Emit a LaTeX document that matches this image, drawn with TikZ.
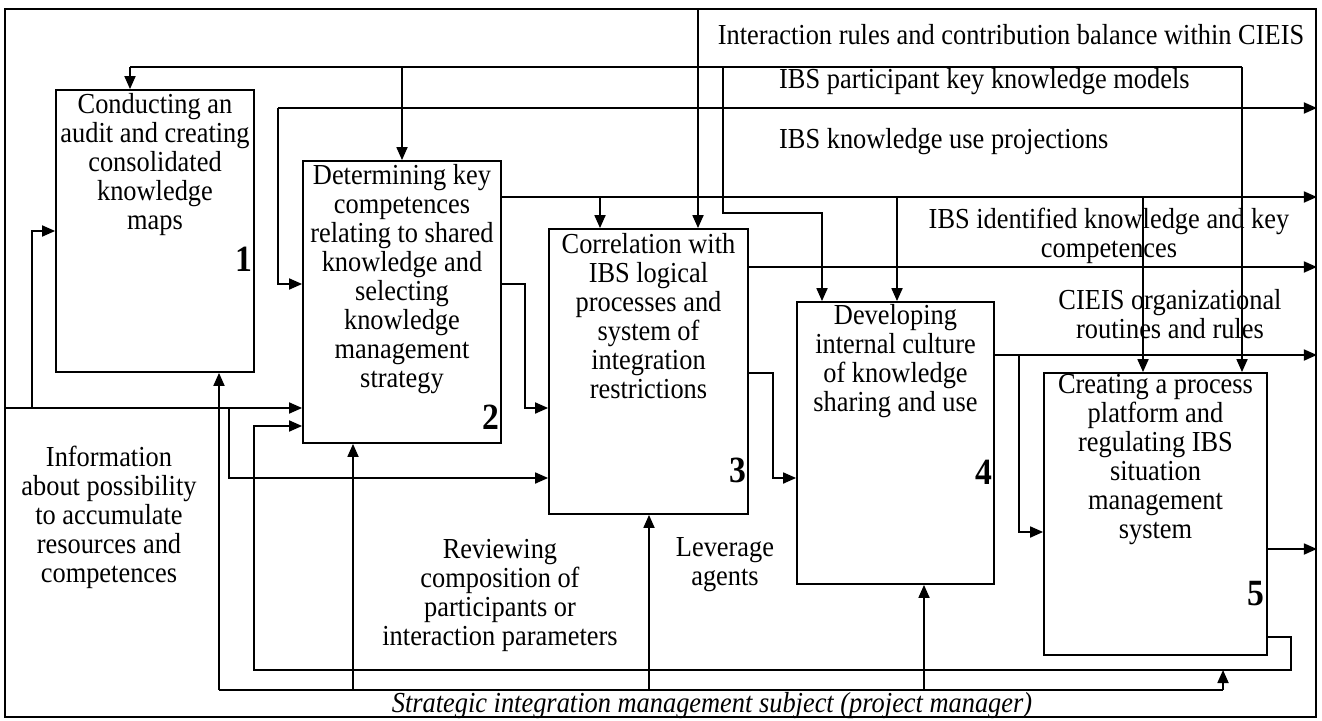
\documentclass[tikz,border=0pt]{standalone}
\usepackage{fontspec}
\setmainfont[FakeStretch=0.91]{Liberation Serif}
\usetikzlibrary{arrows.meta,positioning}

\tikzset{
  proc/.style={draw,line width=1.8bp,inner sep=0pt},
  boxtext/.style={align=center,inner sep=0pt,font=\fontsize{29bp}{29bp}\selectfont},
  lab/.style={align=center,inner sep=0pt,font=\fontsize{29bp}{29bp}\selectfont},
  num/.style={inner sep=0pt,anchor=east,font=\fontsize{37bp}{37bp}\selectfont\bfseries},
  arr/.style={line width=1.8bp,-{Triangle[length=13bp,width=11bp]}},
  rail/.style={line width=1.8bp}
}

\begin{document}
\begin{tikzpicture}[x=1bp,y=-1bp]
\useasboundingbox (0,0) rectangle (1322,720);

% frame
\node[proc,minimum width=1311bp,minimum height=708bp] (frame) at (660.5,363) {};

% activity boxes
\node[proc,minimum width=198bp,minimum height=282bp] (b1) at (155,231) {};
\node[proc,minimum width=198bp,minimum height=282bp] (b2) at (402,302) {};
\node[proc,minimum width=199bp,minimum height=285bp] (b3) at (648.5,371.5) {};
\node[proc,minimum width=197bp,minimum height=282bp] (b4) at (895.5,443) {};
\node[proc,minimum width=223bp,minimum height=282bp] (b5) at (1155.5,514) {};

\node[boxtext,below=4bp of b1.north] (t1) {Conducting an\\audit and creating\\consolidated\\knowledge\\maps};
\node[boxtext,below=4bp of b2.north] (t2) {Determining key\\competences\\relating to shared\\knowledge and\\selecting\\knowledge\\management\\strategy};
\node[boxtext,below=5bp of b3.north] (t3) {Correlation with\\IBS logical\\processes and\\system of\\integration\\restrictions};
\node[boxtext,below=3bp of b4.north] (t4) {Developing\\internal culture\\of knowledge\\sharing and use};
\node[boxtext,below=2bp of b5.north] (t5) {Creating a process\\platform and\\regulating IBS\\situation\\management\\system};

\node[num,xshift=-2bp] (n1) at (b1.east |- 0,259) {1};
\node[num,xshift=-2bp] (n2) at (b2.east |- 0,417) {2};
\node[num,xshift=-2bp] (n3) at (b3.east |- 0,470) {3};
\node[num,xshift=-2bp] (n4) at (b4.east |- 0,472) {4};
\node[num,xshift=-3bp] (n5) at (b5.east |- 0,594) {5};

% controls from the top
\draw[rail] (1242,67) -- (130,67);
\draw[arr] (130,67) -- (b1.north -| 130,0);
\draw[arr] (b2.north |- 0,67) -- (b2.north);
\draw[arr] (723,67) |- (822,213) -- (b4.north -| 822,0);
\draw[arr] (1242,67) -- (b5.north -| 1242,0);
\draw[arr] (frame.north -| 698,0) -- (b3.north -| 698,0);

% outputs to the right
\draw[arr] (278,108) -- (frame.east |- 0,108);
\draw[arr] (278,108) |- (b2.west |- 0,284);
\draw[arr] (b2.east |- 0,197) -- (frame.east |- 0,197);
\draw[arr] (600,197) -- (b3.north -| 600,0);
\draw[arr] (897,197) -- (b4.north -| 897,0);
\draw[arr] (1143,197) -- (b5.north -| 1143,0);
\draw[arr] (b3.east |- 0,267) -- (frame.east |- 0,267);
\draw[arr] (b4.east |- 0,355) -- (frame.east |- 0,355);
\draw[arr] (1019,355) |- (b5.west |- 0,532);
\draw[arr] (b5.east |- 0,549) -- (frame.east |- 0,549);

% box to box
\draw[arr] (b2.east |- 0,284) -- (525,284) |- (b3.west |- 0,408);
\draw[arr] (b3.east |- 0,373) -- (773,373) |- (b4.west |- 0,478);

% inputs from the left
\draw[arr] (frame.west |- 0,408) -- (b2.west |- 0,408);
\draw[arr] (32,408) |- (b1.west |- 0,231);
\draw[arr] (229,408) |- (b3.west |- 0,478);

% feedback
\draw[arr] (b5.east |- 0,637) -- (1291,637) |- (254,670) |- (b2.west |- 0,426);

% mechanism
\draw[rail] (219,690) -- (1223,690);
\draw[arr] (219,690) -- (b1.south -| 219,0);
\draw[arr] (353,690) -- (b2.south -| 353,0);
\draw[arr] (649,690) -- (b3.south -| 649,0);
\draw[arr] (924,690) -- (b4.south -| 924,0);
\draw[arr] (1223,690) -- (1223,670);

% labels
\node[lab] (l1) at (1011,35) {Interaction rules and contribution balance within CIEIS};
\node[lab,anchor=west] (l2) at (779,82) {IBS participant key knowledge models};
\node[lab,anchor=west] (l3) at (779,142) {IBS knowledge use projections};
\node[lab] (l4) at (1109,236) {IBS identified knowledge and key\\competences};
\node[lab] (l5) at (1170,314) {CIEIS organizational\\routines and rules};
\node[lab] (l6) at (109,517) {Information\\about possibility\\to accumulate\\resources and\\competences};
\node[lab] (l7) at (500,595) {Reviewing\\composition of\\participants or\\interaction parameters};
\node[lab] (l8) at (725,565) {Leverage\\agents};
\node[lab,font=\fontsize{29bp}{29bp}\selectfont\itshape] (l9) at (712,706) {Strategic integration management subject (project manager)};
\end{tikzpicture}
\end{document}
